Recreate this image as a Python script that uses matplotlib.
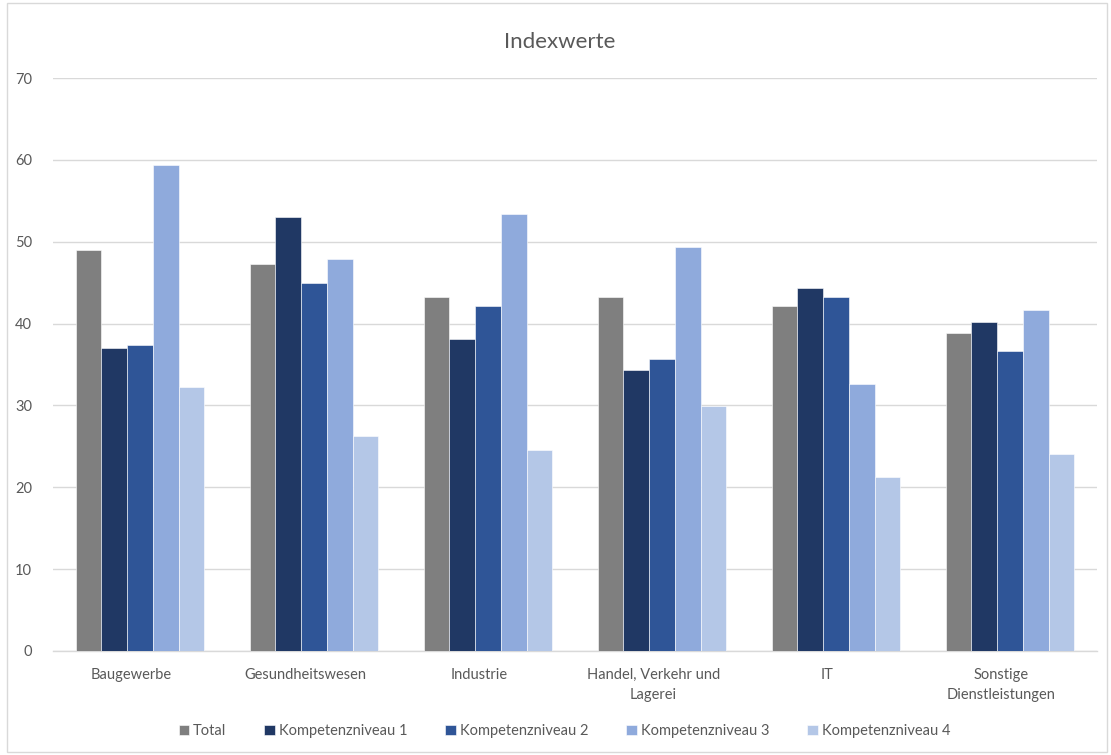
import matplotlib.pyplot as plt
import numpy as np
from matplotlib.patches import Rectangle

plt.rcParams['font.family'] = ['Lato', 'DejaVu Sans']

# Daten
branchen = ['Baugewerbe', 'Gesundheitswesen', 'Industrie',
            'Handel, Verkehr und\nLagerei', 'IT', 'Sonstige\nDienstleistungen']
total = [49.0, 47.3, 43.2, 43.2, 42.2, 38.8]
niveau1 = [37.0, 53.0, 38.1, 34.3, 44.4, 40.2]
niveau2 = [37.4, 44.9, 42.1, 35.7, 43.3, 36.7]
niveau3 = [59.4, 47.9, 53.4, 49.4, 32.6, 41.7]
niveau4 = [32.3, 26.3, 24.5, 29.9, 21.3, 24.1]
serien = ['Total', 'Kompetenzniveau 1', 'Kompetenzniveau 2',
          'Kompetenzniveau 3', 'Kompetenzniveau 4']
farben = ['#7F7F7F', '#203864', '#2F5597', '#8FAADC', '#B4C7E7']

fig = plt.figure(figsize=(11.11, 7.55), dpi=100, facecolor='white')
ax = fig.add_axes([53/1111, 1-651/755, 1044/1111, 573/755])

x = np.arange(len(branchen))
breite = 0.148
werte = [total, niveau1, niveau2, niveau3, niveau4]
for i, (name, w) in enumerate(zip(serien, werte)):
    ax.bar(x + (i - 2) * breite, w, breite, color=farben[i], label=name,
           edgecolor='white', linewidth=0.4, zorder=3)

ax.set_xlim(-0.5, len(branchen) - 0.5)
ax.set_ylim(0, 70)
ax.set_yticks(range(0, 71, 10))
ax.grid(axis='y', color='#D9D9D9', linewidth=1, zorder=0)
for s in ['top', 'right', 'left']:
    ax.spines[s].set_visible(False)
ax.spines['bottom'].set_color('#D9D9D9')
ax.spines['bottom'].set_linewidth(1)
ax.set_xticks(x - 0.05)
ax.set_xticklabels(branchen, fontsize=10.5, color='#595959', linespacing=1.55)
ax.tick_params(axis='both', length=0, labelsize=10.5, labelcolor='#595959')
ax.tick_params(axis='y', pad=15)
ax.tick_params(axis='x', pad=12)

fig.text(0.504, 1 - 42/755, 'Indexwerte', ha='center', va='center',
         fontsize=16, color='#595959')

ax.legend(loc='center', bbox_to_anchor=(0.49, -(731-651)/573), ncol=5,
          frameon=False, fontsize=10.5, labelcolor='#595959',
          handlelength=0.7, handleheight=0.7, handletextpad=0.3,
          columnspacing=2.6)

# Rahmen um das Diagramm
fig.patches.append(Rectangle((7/1111, 3/755), 1100/1111, 749/755,
                             transform=fig.transFigure, fill=False,
                             edgecolor='#D9D9D9', linewidth=1))

fig.savefig('out.png', dpi=100, facecolor='white')
